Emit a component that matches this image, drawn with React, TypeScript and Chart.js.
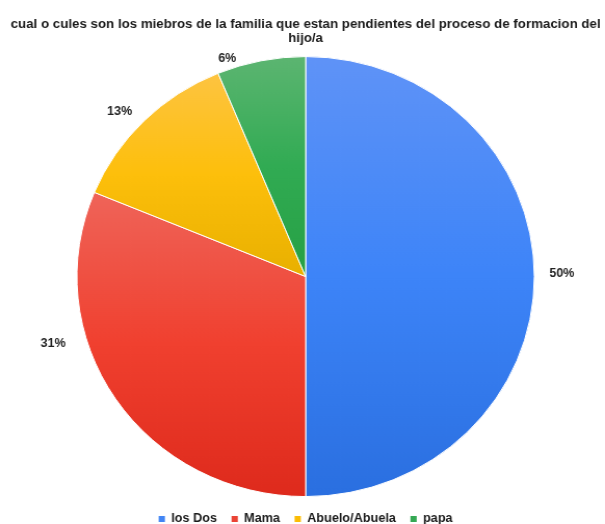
import React, { useEffect, useRef } from 'react';
import { Chart, registerables } from 'chart.js';

Chart.register(...registerables);

// ---- data ----
const categories = ['los Dos', 'Mama', 'Abuelo/Abuela', 'papa'];
const counts = [16, 10, 4, 2];
const titleLines = [
  'cual o cules son los miebros de la familia que estan pendientes del proceso de formacion del',
  'hijo/a',
];
const baseColors = ['#4285f4', '#ea4335', '#fbbc04', '#34a853'];
const lightColors = ['#5f93f7', '#ef6459', '#fdc441', '#5cb571'];
const midColors = ['#3d84f8', '#f0402f', '#fdbf0b', '#31ab53'];
const darkColors = ['#2a6fe0', '#de2a1c', '#e8b000', '#26a044'];

const total = counts.reduce((a, b) => a + b, 0);
const percentLabels = counts.map((v) => `${Math.round((v / total) * 100)}%`);

const FONT = 'Arial, "Liberation Sans", sans-serif';
const INNER_W = 582;
const INNER_H = 535;
const SCALE_X = 605 / INNER_W;

const EPS = 1e-6;

const gradientPlugin = {
  id: 'sliceGradient',
  beforeDatasetsDraw(chart: any) {
    const meta = chart.getDatasetMeta(0);
    const ctx = chart.ctx;
    meta.data.forEach((arc: any, i: number) => {
      const p = arc.getProps(['x', 'y', 'startAngle', 'endAngle', 'outerRadius'], true);
      const ys = [
        p.y,
        p.y + Math.sin(p.startAngle) * p.outerRadius,
        p.y + Math.sin(p.endAngle) * p.outerRadius,
      ];
      for (let k = -2; k <= 2; k++) {
        const b = Math.PI / 2 + 2 * k * Math.PI;
        if (b >= p.startAngle - EPS && b <= p.endAngle + EPS) ys.push(p.y + p.outerRadius);
        const t = -Math.PI / 2 + 2 * k * Math.PI;
        if (t >= p.startAngle - EPS && t <= p.endAngle + EPS) ys.push(p.y - p.outerRadius);
      }
      const y0 = Math.min(...ys);
      const y1 = Math.max(...ys);
      const g = ctx.createLinearGradient(0, y0, 0, y1);
      g.addColorStop(0, lightColors[i]);
      g.addColorStop(0.5, midColors[i]);
      g.addColorStop(1, darkColors[i]);
      try {
        arc.options.backgroundColor = g;
      } catch (e) {
        /* ignore */
      }
    });
  },
};

const labelPlugin = {
  id: 'outsideLabels',
  afterDatasetsDraw(chart: any, _args: any, opts: any) {
    const meta = chart.getDatasetMeta(0);
    const ctx = chart.ctx;
    ctx.save();
    ctx.font = `bold 12px ${FONT}`;
    ctx.fillStyle = '#222222';
    ctx.textAlign = 'center';
    ctx.textBaseline = 'middle';
    meta.data.forEach((arc: any, i: number) => {
      const p = arc.getProps(['x', 'y', 'startAngle', 'endAngle', 'outerRadius'], true);
      const [dAng, dRad] = opts.placement[i];
      const a = (p.startAngle + p.endAngle) / 2 + (dAng * Math.PI) / 180;
      const r = p.outerRadius + dRad;
      ctx.fillText(percentLabels[i], p.x + Math.cos(a) * r, p.y + Math.sin(a) * r);
    });
    ctx.restore();
  },
};

export default function App() {
  const ref = useRef<HTMLCanvasElement>(null);

  useEffect(() => {
    if (!ref.current) return;
    const chart = new Chart(ref.current, {
      type: 'pie',
      data: {
        labels: categories,
        datasets: [
          {
            data: counts,
            backgroundColor: baseColors,
            borderColor: '#ffffff',
            borderWidth: 1,
            radius: 220,
          } as any,
        ],
      },
      options: {
        responsive: false,
        animation: false,
        layout: { padding: { left: 6, right: 0, top: 0, bottom: 0 } },
        plugins: {
          title: {
            display: true,
            text: titleLines,
            color: '#1a1a1a',
            font: { family: FONT, size: 12.8, weight: 'bold', lineHeight: 1.17 },
            padding: { top: 16.5, bottom: 7.9 },
          },
          legend: {
            position: 'bottom',
            labels: {
              boxWidth: 6,
              boxHeight: 6,
              padding: 14,
              color: '#1a1a1a',
              font: { family: FONT, size: 12.2, weight: 'bold' },
              generateLabels: (c: any) =>
                (Chart as any).overrides.doughnut.plugins.legend.labels
                  .generateLabels(c)
                  .map((l: any) => ({ ...l, lineWidth: 0, strokeStyle: 'rgba(0,0,0,0)' })),
            },
          },
          tooltip: { enabled: false },
          outsideLabels: {
            placement: [
              [-0.6, 26.5],
              [18.4, 31.9],
              [-2.4, 23],
              [-7.85, 10.4],
            ],
          },
        } as any,
      },
      plugins: [gradientPlugin, labelPlugin],
    });
    return () => chart.destroy();
  }, []);

  return (
    <div
      style={{
        position: 'fixed',
        left: 0,
        top: 0,
        width: 605,
        height: 524,
        overflow: 'hidden',
        background: '#ffffff',
      }}
    >
      <div
        style={{
          width: INNER_W,
          height: INNER_H,
          transform: `scaleX(${SCALE_X})`,
          transformOrigin: '0 0',
        }}
      >
        <canvas
          ref={ref}
          width={INNER_W}
          height={INNER_H}
          style={{ display: 'block', width: INNER_W, height: INNER_H }}
        />
      </div>
    </div>
  );
}
